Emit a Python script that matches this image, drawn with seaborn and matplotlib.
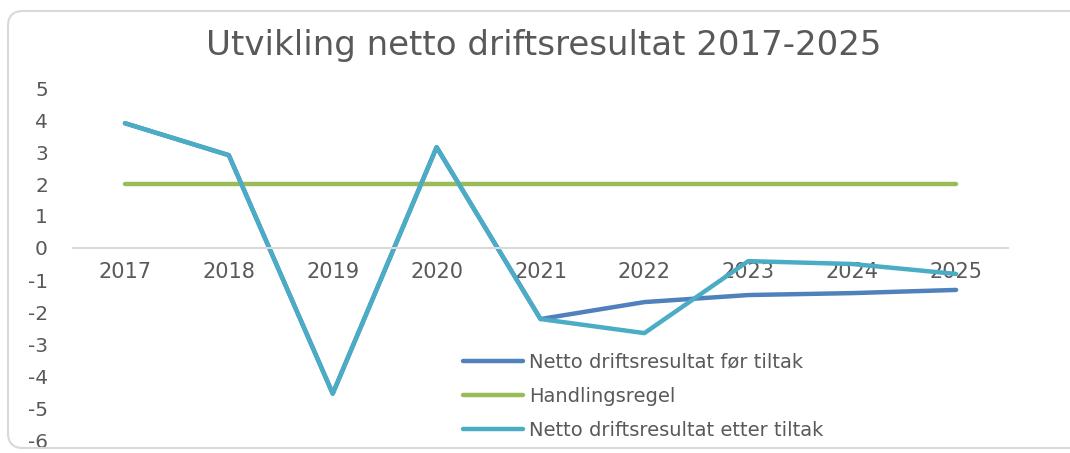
import seaborn as sns
import matplotlib.pyplot as plt
import pandas as pd
from matplotlib.patches import FancyBboxPatch
from matplotlib.transforms import IdentityTransform

years = ['2017', '2018', '2019', '2020', '2021', '2022', '2023', '2024', '2025']
for_tiltak = [3.9, 2.9, -4.55, 3.15, -2.22, -1.69, -1.47, -1.41, -1.31]
handlingsregel = [2.0, 2.0, 2.0, 2.0, 2.0, 2.0, 2.0, 2.0, 2.0]
etter_tiltak = [3.9, 2.9, -4.55, 3.15, -2.22, -2.66, -0.41, -0.5, -0.81]
series_names = ['Netto driftsresultat før tiltak', 'Handlingsregel',
                'Netto driftsresultat etter tiltak']
colors = ['#4f81bd', '#9bbb59', '#4bacc6']

rows = []
for name, vals in zip(series_names, [for_tiltak, handlingsregel, etter_tiltak]):
    for i, v in enumerate(vals):
        rows.append({'pos': i, 'verdi': v, 'serie': name})
df = pd.DataFrame(rows)

sns.set_style("white")
plt.rcParams['font.family'] = ['DejaVu Sans']
plt.rcParams['axes.unicode_minus'] = False

fig = plt.figure(figsize=(10.7, 4.53), dpi=100)
ax = fig.add_axes([73 / 1070, 1 - 440 / 453, (1008 - 73) / 1070, (440 - 88) / 453])

sns.lineplot(data=df, x='pos', y='verdi', hue='serie', hue_order=series_names,
             palette=colors, linewidth=3.2, ax=ax, legend=False)
for line in ax.get_lines():
    line.set_solid_capstyle('round')
    line.set_solid_joinstyle('round')

ax.set_xlim(-0.5, 8.5)
ax.set_ylim(-6, 5)
ax.set_yticks(range(-6, 6))
ax.set_xticks(range(len(years)))
ax.set_xticklabels(years)
ax.set_xlabel('')
ax.set_ylabel('')

for s in ['left', 'top', 'right']:
    ax.spines[s].set_visible(False)
ax.spines['bottom'].set_position(('data', 0))
ax.spines['bottom'].set_color('#d9d9d9')
ax.spines['bottom'].set_linewidth(1.5)

ax.tick_params(axis='x', length=0, pad=10, labelsize=15, labelcolor='#595959')
ax.tick_params(axis='y', length=0, pad=18, labelsize=14.5, labelcolor='#595959')

fig.text(544 / 1070, 1 - 45 / 453, 'Utvikling netto driftsresultat 2017-2025',
         ha='center', va='center', fontsize=24.5, color='#595959')

handles = ax.get_lines()[:3]
ax.legend(handles, series_names, loc='upper left',
          bbox_to_anchor=(455 / 1070, 1 - 345 / 453), bbox_transform=fig.transFigure,
          frameon=False, fontsize=14, handlelength=3.1, handletextpad=0.3,
          labelspacing=0.78, labelcolor='#595959', borderaxespad=0)

frame = FancyBboxPatch((8, 5), 1090, 437, boxstyle='round,pad=0,rounding_size=15',
                       transform=IdentityTransform(), fill=False,
                       edgecolor='#d9d9d9', linewidth=1.5)
fig.add_artist(frame)

fig.savefig('out.png', dpi=100)
